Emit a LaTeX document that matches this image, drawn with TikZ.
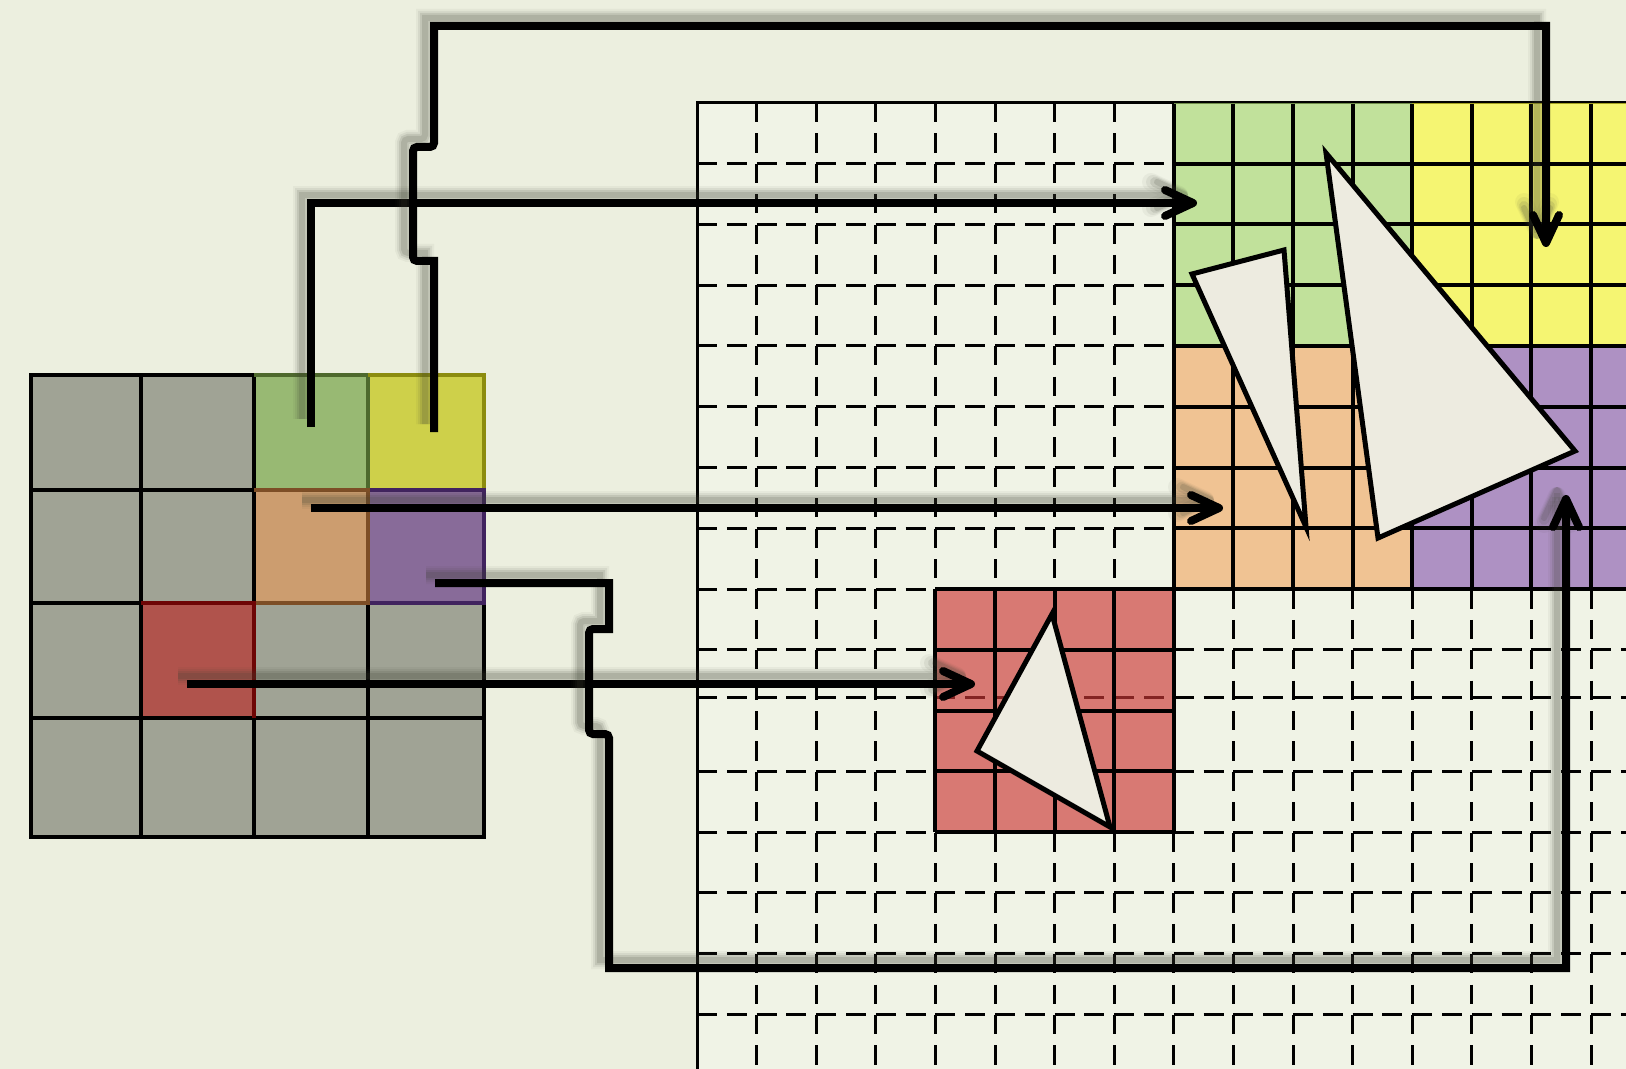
\documentclass[tikz,border=0pt]{standalone}
\usetikzlibrary{arrows.meta}
\definecolor{bgout}{RGB}{236,239,223}
\definecolor{bgin}{RGB}{240,243,230}
\definecolor{lgray}{RGB}{160,163,149}
\definecolor{lgreen}{RGB}{152,185,115}
\definecolor{lyellow}{RGB}{206,208,74}
\definecolor{lorange}{RGB}{204,157,111}
\definecolor{lpurple}{RGB}{136,107,153}
\definecolor{lred}{RGB}{176,83,76}
\definecolor{dgreen}{RGB}{78,105,45}
\definecolor{dyellow}{RGB}{140,140,15}
\definecolor{dorange}{RGB}{125,78,38}
\definecolor{dpurple}{RGB}{65,35,95}
\definecolor{dred}{RGB}{110,5,5}
\definecolor{rgreen}{RGB}{169,216,115}
\definecolor{ryellow}{RGB}{249,247,52}
\definecolor{rorange}{RGB}{241,170,104}
\definecolor{rpurple}{RGB}{139,93,177}
\definecolor{rred}{RGB}{204,56,54}
\definecolor{trifill}{RGB}{237,235,224}
\definecolor{shadowc}{RGB}{60,64,50}
\tikzset{
  dashrow/.style={draw=black, line width=1.5pt, dash pattern=on 10pt off 4.9pt},
  dashcol/.style={draw=black, line width=1.5pt, dash pattern=on 9.6pt off 5.6pt},
  gridsolid/.style={draw=black, line width=1.5pt},
  cgrid/.style={draw=black, line width=2pt},
  lgrid/.style={draw=black, line width=1.8pt},
  lborder/.style={line width=1.8pt},
  region/.style={fill opacity=0.65},
  tri/.style={draw=black, fill=trifill, line width=2.5pt, line join=miter},
  shadowed/.style={
    preaction={draw=shadowc, opacity=0.05, line width=9pt, transform canvas={xshift=-4.5pt,yshift=4pt}},
    preaction={draw=shadowc, opacity=0.08, line width=7pt, transform canvas={xshift=-4.5pt,yshift=4pt}},
    preaction={draw=shadowc, opacity=0.12, line width=5pt, transform canvas={xshift=-4.5pt,yshift=4pt}},
    preaction={draw=shadowc, opacity=0.15, line width=3pt, transform canvas={xshift=-4.5pt,yshift=4pt}}},
  conn/.style={draw=black, line width=4pt, line cap=butt, shadowed},
  arr/.style={-{Straight Barb[length=14pt,width=13pt,round]}}
}
\begin{document}
\begin{tikzpicture}[x=0.5pt,y=-0.5pt]
\useasboundingbox (0,0) rectangle (1626,1069);
\clip (0,0) rectangle (1626,1069);
\fill[bgout] (0,0) rectangle (1626,1069);

% ---------- right grid ----------
\fill[bgin] (697,103) rectangle (1660,1080);
\foreach \yy in {163.75,224.5,285.25,346,406.75,467.5,528.25,589,649.75,697,771.25,832,892.75,953.5,1014.25}
  \draw[dashrow] (697,\yy) -- (1660,\yy);
\foreach \xx in {756.6,816.2,875.8,935.4,995,1054.6,1114.2,1173.8,1233.4,1293,1352.6,1412.2,1471.8,1531.4,1591}
  \draw[dashcol] (\xx,103) -- (\xx,1080);
\draw[gridsolid] (697,1080) -- (697,103) -- (1660,103);

% coloured regions
\fill[rgreen,region] (1173.8,103) rectangle (1412.2,346);
\fill[ryellow,region] (1412.2,103) rectangle (1660,346);
\fill[rorange,region] (1173.8,346) rectangle (1412.2,589);
\fill[rpurple,region] (1412.2,346) rectangle (1660,589);
\fill[rred,region] (935.4,589) rectangle (1173.8,832);
\foreach \xx in {1173.8,1233.4,1293,1352.6,1412.2,1471.8,1531.4,1591}
  \draw[cgrid] (\xx,104) -- (\xx,589);
\foreach \yy in {163.75,224.5,285.25,346,406.75,467.5,528.25,589}
  \draw[cgrid] (1173.8,\yy) -- (1660,\yy);
\foreach \xx in {935.4,995,1054.6,1114.2,1173.8}
  \draw[cgrid] (\xx,589) -- (\xx,832);
\foreach \yy in {589,649.75,710.5,771.25,832}
  \draw[cgrid] (935.4,\yy) -- (1173.8,\yy);

% triangles
\draw[tri] (1052,614) -- (977,751) -- (1110,827) -- cycle;
\draw[tri] (1192,274) -- (1284,250) -- (1306,527) -- cycle;
\draw[tri] (1326,153) -- (1575,451) -- (1378,538) -- cycle;

% ---------- left grid ----------
\fill[lgray] (31,375) rectangle (484,837);
\fill[lgreen] (254,375) rectangle (368,490);
\fill[lyellow] (368,375) rectangle (484,490);
\fill[lorange] (254,490) rectangle (368,603);
\fill[lpurple] (368,490) rectangle (484,603);
\fill[lred] (141,603) rectangle (254,718);
\draw[lgrid] (31,375) rectangle (484,837);
\foreach \xx in {141,254,368} \draw[lgrid] (\xx,375) -- (\xx,837);
\foreach \yy in {490,603,718} \draw[lgrid] (31,\yy) -- (484,\yy);
\draw[lborder,dgreen] (254,375) -- (368,375) -- (368,490);
\draw[lborder,dyellow] (368,375) -- (484,375) -- (484,490);
\draw[lborder,dpurple] (368,490) -- (484,490) -- (484,603) -- (368,603);
\draw[lborder,dorange] (254,490) -- (368,490) -- (368,603) -- (254,603);
\draw[lborder,dred] (141,603) -- (254,603) -- (254,718);

% ---------- connectors ----------
\coordinate (gS) at (311,427);
\coordinate (gE) at (1197,203);
\coordinate (yS) at (434,432);
\coordinate (yE) at (1546,247);
\coordinate (oS) at (311,508);
\coordinate (oE) at (1223,508);
\coordinate (rS) at (187,684);
\coordinate (rE) at (975,684);
\coordinate (pS) at (435,583);
\coordinate (pE) at (1566,495);

\draw[conn,arr] (gS) -- (311,203) -- (gE);
\draw[conn,arr] (yS) -- (434,261) [rounded corners=2pt] -- (413,261) -- (413,147) -- (434,147) [sharp corners] -- (434,26) -- (1546,26) -- (yE);
\draw[conn,arr] (oS) -- (oE);
\draw[conn,arr] (rS) -- (rE);
\draw[conn,arr] (pS) -- (609,583) -- (609,629) [rounded corners=2pt] -- (589,629) -- (589,734) -- (609,734) [sharp corners] -- (609,968) -- (1566,968) -- (pE);
\end{tikzpicture}
\end{document}
